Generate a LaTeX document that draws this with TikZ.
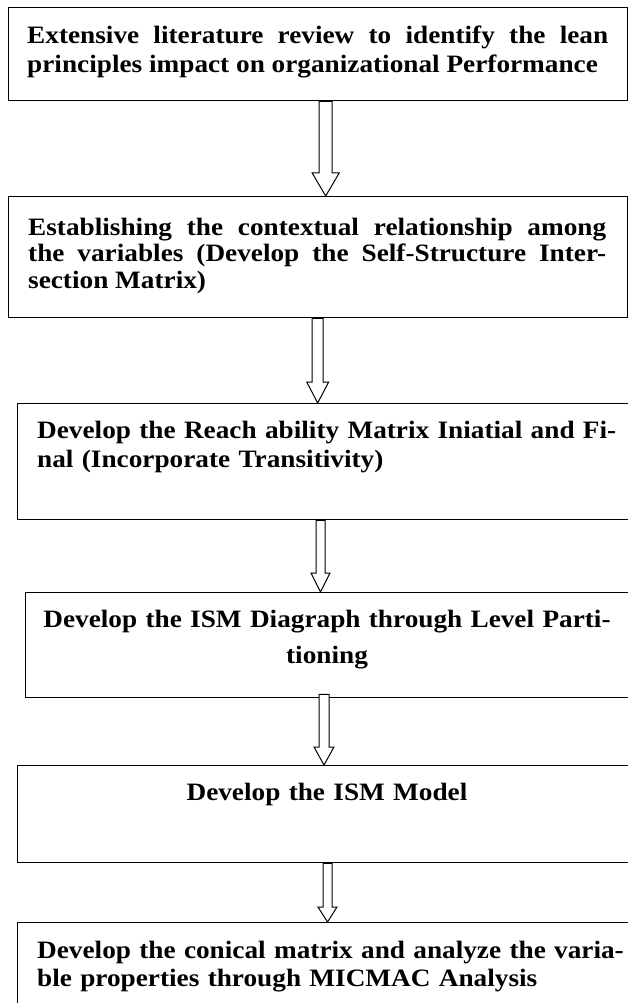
\documentclass[tikz,border=0pt]{standalone}
\usepackage{fontspec}
\setmainfont{Liberation Serif}[FakeStretch=1.09]
\usetikzlibrary{calc}
\newcommand\firststrut{\rule{0pt}{20pt}}
% hollow arrow from the bottom of node #1 to the top of node #2
% #3 centre x, #4 shaft half width, #5 head half width, #6 head height, #7 top offset
\newcommand\harrow[7]{%
  \draw[harr] let \p1=(#1.south), \p2=(#2.north) in
    (#3pt-#4pt,\y1+#7pt) -- (#3pt-#4pt,\y2+#6pt) -- (#3pt-#5pt,\y2+#6pt) --
    (#3pt,\y2) -- (#3pt+#5pt,\y2+#6pt) -- (#3pt+#4pt,\y2+#6pt) --
    (#3pt+#4pt,\y1+#7pt) -- cycle;}
\begin{document}
\begin{tikzpicture}[x=1pt,y=1pt,
  box/.style={draw=black, line width=1.3pt, inner sep=0pt, anchor=north west, rectangle},
  txt/.style={inner sep=0pt, font=\fontsize{25}{29}\selectfont\bfseries, text width=600pt, align=left, anchor=north west},
  jtxt/.style={txt, align=justify},
  harr/.style={draw=black, line width=1pt, fill=white}]
\useasboundingbox (0,0) rectangle (628,-1003);
% boxes
\node[box, minimum width=619pt, minimum height=93pt]  (b1) at (8,-7)   {};
\node[box, minimum width=619pt, minimum height=121pt] (b2) at (8,-196) {};
\node[box, minimum width=623pt, minimum height=116pt] (b3) at (17,-403) {};
\node[box, minimum width=615pt, minimum height=105pt] (b4) at (25,-592) {};
\node[box, minimum width=623pt, minimum height=97pt]  (b5) at (17,-765) {};
\node[box, minimum width=623pt, minimum height=100pt] (b6) at (17,-922) {};
% texts
\node[jtxt, text width=581pt] (t1) at (27,-23) {\firststrut Extensive literature review to identify the lean\linebreak
principles impact on organizational Performance};
\node[jtxt, text width=578pt, font=\fontsize{25}{26.5}\selectfont\bfseries] (t2) at (28,-215) {\firststrut Establishing the contextual relationship among\linebreak
the variables (Develop the Self-Structure Inter-\linebreak
section Matrix)};
\node[txt] (t3) at (37,-418) {\firststrut Develop the Reach ability Matrix Iniatial and Fi-\\
nal (Incorporate Transitivity)};
\node[txt, font=\fontsize{25}{36}\selectfont\bfseries, align=center, text width=590pt, anchor=north] (t4) at (327,-607) {\firststrut Develop the ISM Diagraph through Level Parti-\\
tioning};
\node[txt, align=center, text width=590pt, anchor=north] (t5) at (327,-780) {\firststrut Develop the ISM Model};
\node[txt, font=\fontsize{25}{28}\selectfont\bfseries] (t6) at (37,-938) {\firststrut Develop the conical matrix and analyze the varia-\\
ble properties through MICMAC Analysis};
% arrows
\harrow{b1}{b2}{325.7}{6.5}{13.5}{23}{0}
\harrow{b2}{b3}{317.7}{5.5}{11}{21}{0}
\harrow{b3}{b4}{320.5}{4.5}{9.5}{19}{0}
\harrow{b4}{b5}{324}{5}{10}{18}{4}
\harrow{b5}{b6}{327.5}{4.5}{9.5}{15}{0}
\end{tikzpicture}
\end{document}
